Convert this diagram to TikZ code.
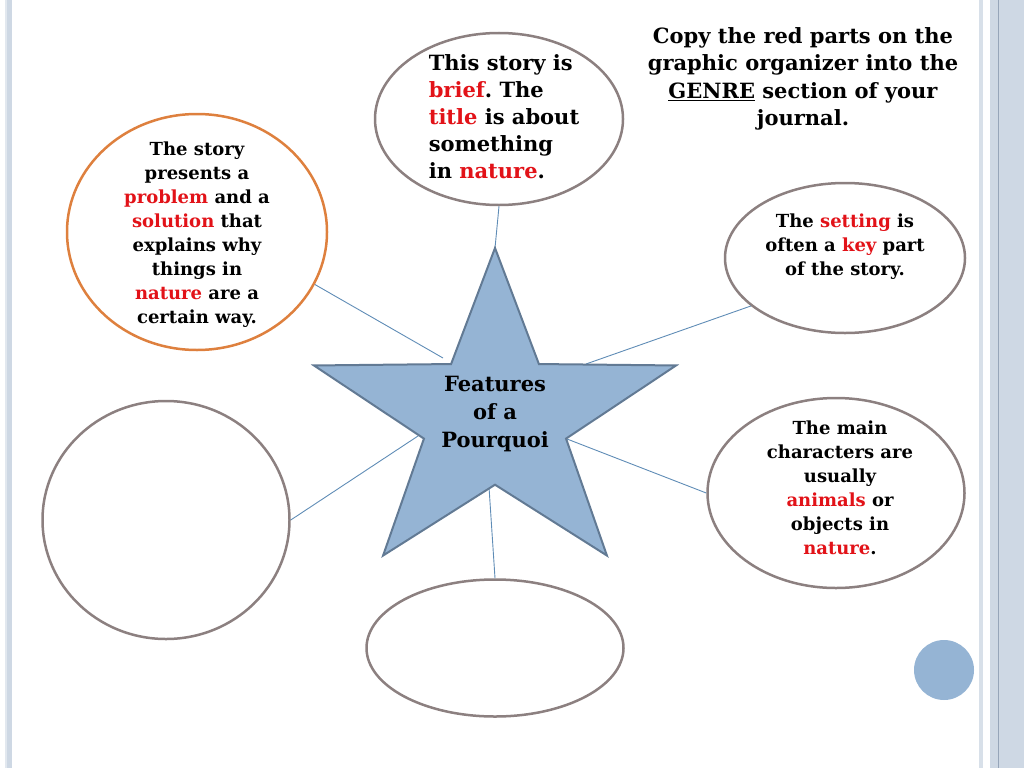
\documentclass[tikz,border=0pt]{standalone}
\usepackage{fontspec}
\setmainfont{DejaVu Serif}
\usetikzlibrary{shapes.geometric,positioning}

\definecolor{starfill}{RGB}{149,180,212}
\definecolor{stardraw}{RGB}{98,122,148}
\definecolor{linkblue}{RGB}{95,140,182}
\definecolor{ringgrey}{RGB}{140,128,128}
\definecolor{ringorange}{RGB}{222,128,62}
\definecolor{hotred}{RGB}{226,18,24}
\definecolor{edgeblue}{RGB}{206,216,228}
\definecolor{edgeline}{RGB}{150,165,185}

\newcommand{\hl}[1]{\textcolor{hotred}{#1}}
\frenchspacing

\tikzset{
  bubble/.style={ellipse, draw=ringgrey, line width=2.5pt, fill=white, inner sep=0pt},
  link/.style={draw=linkblue, line width=0.9pt},
  words/.style={font=\bfseries\fontsize{18}{24}\selectfont, align=center, inner sep=0pt},
}

\begin{document}
\begin{tikzpicture}[x=1pt,y=-1pt]
    \useasboundingbox (0,0) rectangle (1024,768);

    % Side stripes
    \fill[edgeblue!60] (5,0) rectangle (7,768);
    \fill[edgeblue] (7,0) rectangle (12,768);
    \fill[edgeblue!80] (979,0) rectangle (983,768);
    \fill[edgeblue] (990,0) rectangle (1024,768);
    \draw[edgeline, line width=0.8pt] (998,0) -- (998,768);

    % Bubbles
    \node[bubble, minimum width=248, minimum height=172] (brief) at (499,119) {};
    \node[bubble, draw=ringorange, minimum width=260, minimum height=236] (problem) at (197,232) {};
    \node[bubble, minimum width=240, minimum height=150] (setting) at (845,258) {};
    \node[bubble, minimum width=257, minimum height=190] (chars) at (836,493) {};
    \node[bubble, minimum width=247, minimum height=238] (blankleft) at (166,520) {};
    \node[bubble, minimum width=257, minimum height=137] (blankbottom) at (495,648) {};

    % Star outline points
    \foreach \i/\r in {0/170,1/66.7,2/170,3/66.7,4/170,5/66.7,6/170,7/66.7,8/170,9/66.7}
        \coordinate (s\i) at ({495+1.12*\r*sin(36*\i)}, {418-\r*cos(36*\i)});

    % Connector ends at the star
    \coordinate (jproblem) at (443,358);
    \coordinate (jsetting) at (586,364);
    \coordinate (jleft) at (418,436);
    \coordinate (jbottom) at (489,487);

    % Connectors
    \draw[link] (brief.south) -- (s0);
    \draw[link] (problem.-24) -- (jproblem);
    \draw[link] (setting.207) -- (jsetting);
    \draw[link] (chars.west) -- (s3);
    \draw[link] (blankleft.east) -- (jleft);
    \draw[link] (blankbottom.north) -- (jbottom);

    % Star
    \draw[fill=starfill, draw=stardraw, line width=2pt, line join=miter]
        (s0) \foreach \i in {1,...,9}{ -- (s\i)} -- cycle;
    \node[words, font=\bfseries\fontsize{21}{28}\selectfont] (feat) at (495,414)
        {Features\\of a\\Pourquoi};

    % Texts
    \node[words, font=\bfseries\fontsize{21}{27}\selectfont, align=left] (briefT) at (504,117)
        {This story is\\\hl{brief}. The\\\hl{title} is about\\something\\in \hl{nature}.};
    \node[words] (problemT) at (197,235)
        {The story\\presents a\\\hl{problem} and a\\\hl{solution} that\\explains why\\things in\\\hl{nature} are a\\certain way.};
    \node[words] (settingT) at (845,247)
        {The \hl{setting} is\\often a \hl{key} part\\of the story.};
    \node[words] (charsT) at (840,488)
        {The main\\characters are\\usually\\\hl{animals} or\\objects in\\\hl{nature}.};
    \node[words, font=\bfseries\fontsize{21}{27.5}\selectfont] (note) at (803,79)
        {Copy the red parts on the\\graphic organizer into the\\\underline{GENRE} section of your\\journal.};

    % Corner dot
    \node[circle, fill=starfill, minimum size=60, inner sep=0pt] (dot) at (944,670) {};
\end{tikzpicture}
\end{document}
